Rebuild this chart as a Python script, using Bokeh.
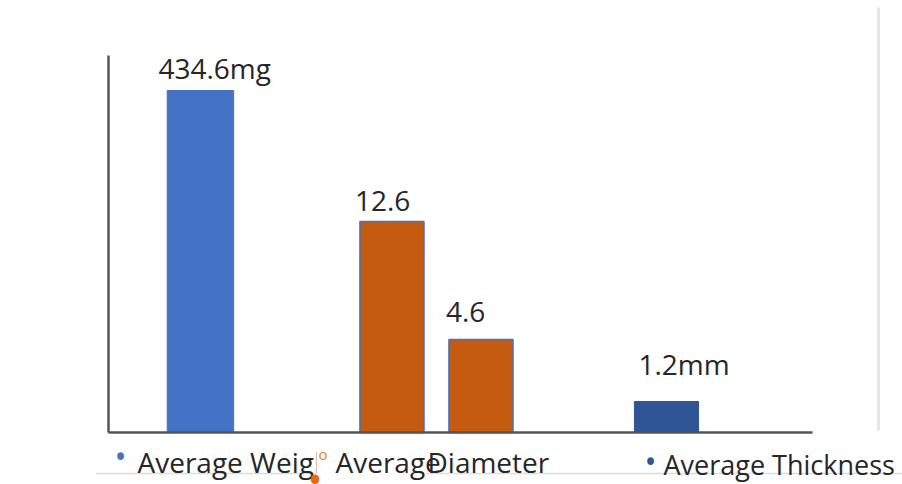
from bokeh.plotting import figure
from bokeh.models import Range1d, LinearScale, ColumnDataSource, Label
from bokeh.core.properties import value
from bokeh.embed import file_html
from bokeh.resources import INLINE

# ---- data -------------------------------------------------------------
groups = ["Average Weight", "Average Diameter", "Average Thickness"]
weight_mg = [434.6]
diameter = [12.6, 4.6]
thickness_mm = [1.2]
weight_labels = ["434.6mg"]
diameter_labels = ["12.6", "4.6"]
thickness_labels = ["1.2mm"]

# ---- layout / style ---------------------------------------------------
W, H = 902, 484
FONT = "Open Sans"
FS = "28px"
TEXT = "#262626"
AXIS = "#555555"
BLUE = "#4472C4"
ORANGE = "#C55A11"
DARK_BLUE = "#2F5597"
BAR_W = 0.285
DODGE = 0.191
DIAM_SHIFT = 0.013
LIFT = 11  # baseline correction for text, px

p = figure(width=W, height=H, output_backend="svg", toolbar_location=None,
           x_axis_location=None, y_axis_location=None,
           min_border=0, outline_line_color=None,
           x_range=Range1d(-0.858, 3.013), y_range=Range1d(-66.1, 549.0))
p.grid.visible = False
p.background_fill_color = "white"
p.border_fill_color = "white"

# every measurement has its own hidden scale
p.extra_y_ranges = {
    "diam": Range1d(-5.224, 27.58),
    "thick": Range1d(-2.013, 16.72),
}
p.extra_y_scales = {"diam": LinearScale(), "thick": LinearScale()}
diam_base = -1.70

gx = {g: i for i, g in enumerate(groups)}

# weight bar
src_w = ColumnDataSource(dict(x=[gx["Average Weight"]], top=weight_mg, lab=weight_labels,
                              dx=[-42], dy=[-12 - LIFT]))
p.vbar(x="x", top="top", bottom=0, width=BAR_W, source=src_w,
       fill_color=BLUE, line_color=BLUE, line_width=1)

# diameter bars
dc = gx["Average Diameter"] + DIAM_SHIFT
src_d = ColumnDataSource(dict(x=[dc - DODGE, dc + DODGE], top=diameter, lab=diameter_labels,
                              dx=[-37, -35], dy=[-10 - LIFT, -17 - LIFT]))
p.vbar(x="x", top="top", bottom=diam_base, width=BAR_W - 0.01, source=src_d,
       fill_color=ORANGE, line_color=BLUE, line_width=1.5, y_range_name="diam")

# thickness bar
src_t = ColumnDataSource(dict(x=[gx["Average Thickness"]], top=thickness_mm, lab=thickness_labels,
                              dx=[-28], dy=[-26 - LIFT]))
p.vbar(x="x", top="top", bottom=0, width=BAR_W - 0.01, source=src_t,
       fill_color=DARK_BLUE, line_color=DARK_BLUE, line_width=1, y_range_name="thick")

# value labels
for src, rn in ((src_w, "default"), (src_d, "diam"), (src_t, "thick")):
    p.text(x="x", y="top", text="lab", source=src, x_offset="dx", y_offset="dy",
           text_font=value(FONT), text_font_size=FS, text_color=TEXT,
           text_align="left", text_baseline="alphabetic", y_range_name=rn)

# axis lines
x0 = -0.858 + 108 / 233.0
x1 = -0.858 + 812 / 233.0
p.segment(x0=[x0], y0=[0], x1=[x1], y1=[0], line_color=AXIS, line_width=2.5)
p.segment(x0=[x0], y0=[0], x1=[x0], y1=[(484 - 55) * 1.2708 - 66.1],
          line_color=AXIS, line_width=2.5)

# faint outer frame lines
xr = -0.858 + 878 / 233.0
p.segment(x0=[xr], y0=[-66.1 + 54 * 1.2708], x1=[xr], y1=[-66.1 + 477 * 1.2708],
          line_color="#e6e6e6", line_width=3)
p.segment(x0=[-0.858 + 95 / 233.0], y0=[-66.1 + 11 * 1.2708], x1=[3.013],
          y1=[-66.1 + 11 * 1.2708], line_color="#dddddd", line_width=1.5)


# legend row
def lab(txt, x, y, size=FS, color=TEXT, bg=None, pad=0):
    kw = dict(x=x, y=H - (y - LIFT), x_units="screen", y_units="screen", text=txt,
              text_font=FONT, text_font_size=size, text_color=color,
              text_baseline="alphabetic")
    if bg:
        kw.update(background_fill_color=bg, padding=pad)
    p.add_layout(Label(**kw))


lab("•", 114, 466, size="32px", color=BLUE)
lab(groups[0], 137, 472)
lab("Average", 316, 472, color="white", bg="white", pad=2)
lab("Average", 335, 472)
lab("Diameter", 427, 472)
lab("o", 318, 464, size="15px", color="#ED7D31")
lab("•", 307, 489, size="40px", color="#E46C0A")
lab("•", 644, 471, size="32px", color=DARK_BLUE)
lab(groups[2], 663, 475, size="27px")

open("out.html", "w").write(file_html(p, INLINE))
